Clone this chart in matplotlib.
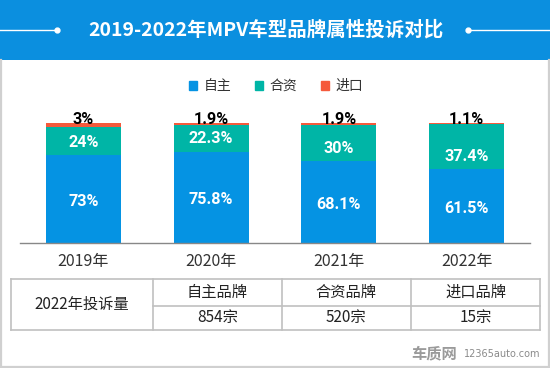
import matplotlib
matplotlib.use("Agg")
import matplotlib.pyplot as plt
from matplotlib.patches import Rectangle
from matplotlib.lines import Line2D
import numpy as np

plt.rcParams['font.family'] = ['Noto Sans CJK SC', 'DejaVu Sans']

title = "2019-2022年MPV车型品牌属性投诉对比"
years = ["2019年", "2020年", "2021年", "2022年"]
series_names = ["自主", "合资", "进口"]
domestic = [73, 75.8, 68.1, 61.5]
joint = [24, 22.3, 30, 37.4]
imported = [3, 1.9, 1.9, 1.1]
domestic_lbl = ["73%", "75.8%", "68.1%", "61.5%"]
joint_lbl = ["24%", "22.3%", "30%", "37.4%"]
imported_lbl = ["3%", "1.9%", "1.9%", "1.1%"]
colors = ["#0593E3", "#00B5A6", "#F55A3C"]

table_head = "2022年投诉量"
table_cols = ["自主品牌", "合资品牌", "进口品牌"]
table_vals = ["854宗", "520宗", "15宗"]

W, H = 550, 368
fig = plt.figure(figsize=(W / 100, H / 100), dpi=100)
fig.patch.set_facecolor("white")

def fx(px):
    return px / W

def fy(py):
    return 1 - py / H

# Title band
fig.patches.append(Rectangle((0, fy(60)), 1, 60 / H, transform=fig.transFigure,
                             facecolor="#0B8FDF", edgecolor="none", zorder=0))
fig.text(fx(266), fy(30), title, color="white", fontsize=14, fontweight="bold",
         ha="center", va="center")
fig.lines.append(Line2D([fx(0), fx(57)], [fy(30), fy(30)], transform=fig.transFigure,
                        color="white", lw=1.0))
fig.lines.append(Line2D([fx(468), fx(550)], [fy(30), fy(30)], transform=fig.transFigure,
                        color="white", lw=1.0))
fig.lines.append(Line2D([fx(57.5), fx(467.5)], [fy(30), fy(30)], transform=fig.transFigure,
                        color="white", lw=0, marker="o", markersize=3.5, linestyle="none"))

# Frame border
border_c = "#D0D0D0"
fig.lines.append(Line2D([fx(0.8), fx(0.8)], [fy(60), fy(367.2)], transform=fig.transFigure,
                        color=border_c, lw=1.6))
fig.lines.append(Line2D([fx(549.2), fx(549.2)], [fy(60), fy(367.2)], transform=fig.transFigure,
                        color=border_c, lw=1.6))
fig.lines.append(Line2D([fx(0), fx(550)], [fy(367.2), fy(367.2)], transform=fig.transFigure,
                        color=border_c, lw=1.6))

# Bar axes
ax_left, ax_right = 20, 529.5
base, top = 243, 123
ax = fig.add_axes([fx(ax_left), fy(base), (ax_right - ax_left) / W, (base - top) / H])
ax.set_facecolor("none")
x = np.arange(len(years))
spacing = 127.67
ax.set_xlim(-(83.5 - ax_left) / spacing, (ax_right - 83.5) / spacing)
ax.set_ylim(0, 100)
bw = 75 / spacing

d = np.array(domestic)
j = np.array(joint)
im = np.array(imported)
ax.bar(x, d, bw, color=colors[0], label=series_names[0])
ax.bar(x, j, bw, bottom=d, color=colors[1], label=series_names[1])
ax.bar(x, im, bw, bottom=d + j, color=colors[2], label=series_names[2])

lbl_font = dict(family="Roboto", fontweight="bold", fontsize=11.6)
for i in range(len(years)):
    ax.annotate(domestic_lbl[i], (x[i], d[i] / 2), xytext=(0, -1.5), textcoords="offset points",
                color="white", ha="center", va="center", **lbl_font)
    ax.annotate(joint_lbl[i], (x[i], d[i]), xytext=(0, 9.5), textcoords="offset points",
                color="white", ha="center", va="center", **lbl_font)
    ax.annotate(imported_lbl[i], (x[i], d[i] + j[i] + im[i]), xytext=(0, 2.2),
                textcoords="offset points", color="black", ha="center", va="center",
                annotation_clip=False, **lbl_font)

for s in ["top", "left", "right"]:
    ax.spines[s].set_visible(False)
ax.spines["bottom"].set_color("#888888")
ax.spines["bottom"].set_linewidth(1)
ax.set_yticks([])
ax.set_xticks(x)
ax.set_xticklabels(years, fontsize=11.5, color="#333333")
ax.tick_params(axis="x", length=0, pad=7)

# Legend
leg = fig.legend(handles=[Rectangle((0, 0), 1, 1, color=c) for c in colors],
                 labels=series_names, loc="center", bbox_to_anchor=(fx(276), fy(86)),
                 ncol=3, frameon=False, fontsize=10, handlelength=0.6, handleheight=0.6,
                 handletextpad=0.45, columnspacing=1.7)
for t in leg.get_texts():
    t.set_color("#333333")

# Table
tc = "#C0C0C0"
tl, tr, tt, tm, tb = 10.5, 540, 279, 306, 329.5
cols = [153, 281.5, 411]

def hline(y, x0, x1):
    fig.lines.append(Line2D([fx(x0), fx(x1)], [fy(y), fy(y)], transform=fig.transFigure,
                            color=tc, lw=1.2))

def vline(xp, y0, y1):
    fig.lines.append(Line2D([fx(xp), fx(xp)], [fy(y0), fy(y1)], transform=fig.transFigure,
                            color=tc, lw=1.2))

hline(tt, tl, tr)
hline(tb, tl, tr)
hline(tm, cols[0], tr)
vline(tl, tt, tb)
vline(tr, tt, tb)
for c in cols:
    vline(c, tt, tb)

fig.text(fx((tl + cols[0]) / 2), fy((tt + tb) / 2), table_head, fontsize=11,
         color="#222222", ha="center", va="center")
edges = cols + [tr]
for k in range(3):
    cx = (edges[k] + edges[k + 1]) / 2
    fig.text(fx(cx), fy((tt + tm) / 2), table_cols[k], fontsize=11, color="#222222",
             ha="center", va="center")
    fig.text(fx(cx), fy((tm + tb) / 2), table_vals[k], fontsize=11, color="#222222",
             ha="center", va="center")

# Watermark
fig.text(fx(411), fy(353), "车质网", fontsize=11, fontweight="bold", color="#9A9A9A",
         ha="left", va="center")
fig.text(fx(464), fy(354), "12365auto.com", fontsize=7, color="#8A8A8A",
         ha="left", va="center", family="DejaVu Sans")

fig.savefig("out.png", dpi=100)
